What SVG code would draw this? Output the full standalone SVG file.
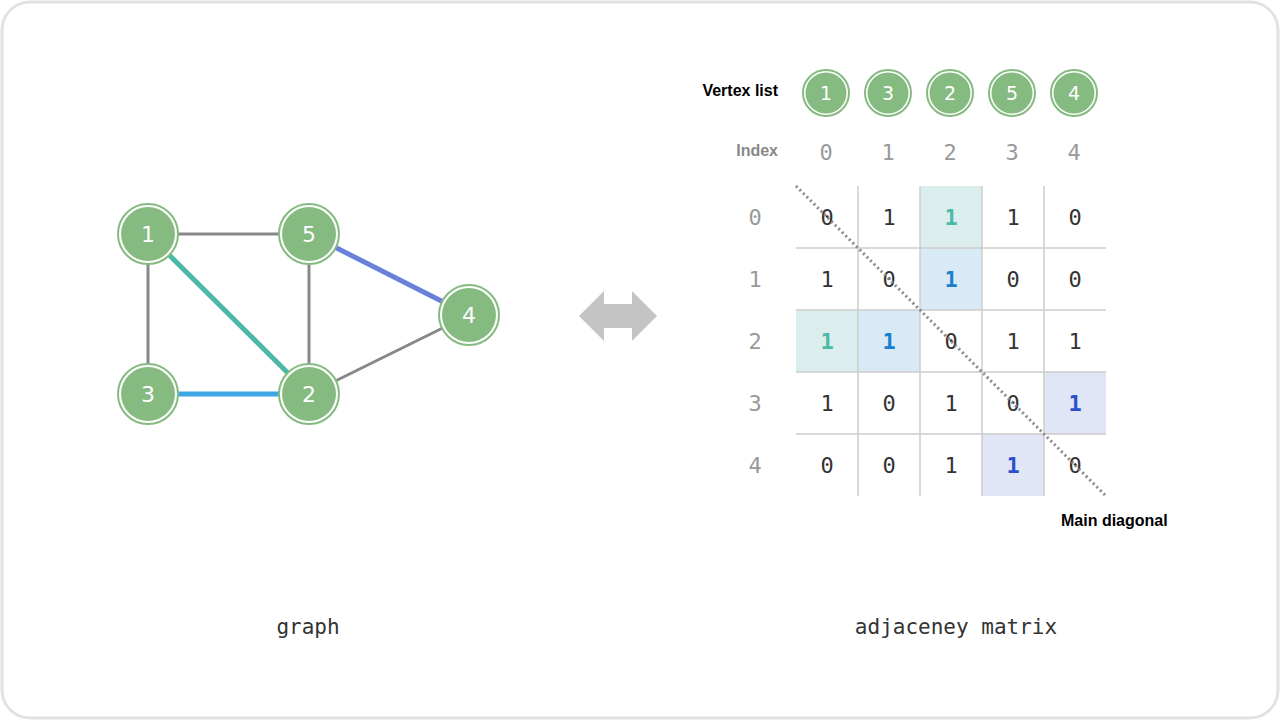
<svg xmlns="http://www.w3.org/2000/svg" width="1280" height="720" viewBox="0 0 1280 720">
<defs>
<style>
.node-o{fill:#ffffff;stroke:#85ba80;stroke-width:2}
.node-i{fill:#85ba80}
.ntxt{font-family:"DejaVu Sans","Noto Sans",sans-serif;fill:#ffffff;text-anchor:middle;dominant-baseline:central}
.m{font-family:"DejaVu Sans Mono","Liberation Mono",monospace;font-size:22px;fill:#333;text-anchor:middle;dominant-baseline:central}
.idx{font-family:"DejaVu Sans Mono","Liberation Mono",monospace;font-size:22px;fill:#999;text-anchor:middle;dominant-baseline:central}
.b{font-family:"DejaVu Sans Mono","Liberation Mono",monospace;font-size:22px;font-weight:bold;text-anchor:middle;dominant-baseline:central}
.lbl{font-family:"Liberation Sans",Arial,sans-serif;font-weight:bold;font-size:16px}
.cap{font-family:"DejaVu Sans Mono","Liberation Mono",monospace;font-size:21px;fill:#333;text-anchor:middle}
.grid{stroke:#cccccc;stroke-width:1.5}
</style>
</defs>
<rect x="2" y="2" width="1276" height="716" rx="28" fill="#ffffff" stroke="#e2e2e2" stroke-width="3"/>

<g id="connectors">
<line x1="148" y1="234" x2="309" y2="234" stroke="#888" stroke-width="3"/>
<line x1="148" y1="234" x2="148" y2="394" stroke="#888" stroke-width="3"/>
<line x1="309" y1="234" x2="309" y2="394" stroke="#888" stroke-width="3"/>
<line x1="309" y1="394" x2="469" y2="315" stroke="#888" stroke-width="3"/>
<line x1="148" y1="234" x2="309" y2="394" stroke="#4cb8a8" stroke-width="5"/>
<line x1="148" y1="394" x2="309" y2="394" stroke="#3fa6e6" stroke-width="5"/>
<line x1="309" y1="234" x2="469" y2="315" stroke="#6b80dd" stroke-width="5"/>
</g>

<g id="node-1"><circle class="node-o" cx="148" cy="234" r="30"/><circle class="node-i" cx="148" cy="234" r="27"/><text class="ntxt" x="148" y="234" font-size="22">1</text></g>
<g id="node-5"><circle class="node-o" cx="309" cy="234" r="30"/><circle class="node-i" cx="309" cy="234" r="27"/><text class="ntxt" x="309" y="234" font-size="22">5</text></g>
<g id="node-4"><circle class="node-o" cx="469" cy="315" r="30"/><circle class="node-i" cx="469" cy="315" r="27"/><text class="ntxt" x="469" y="315" font-size="22">4</text></g>
<g id="node-3"><circle class="node-o" cx="148" cy="394" r="30"/><circle class="node-i" cx="148" cy="394" r="27"/><text class="ntxt" x="148" y="394" font-size="22">3</text></g>
<g id="node-2"><circle class="node-o" cx="309" cy="394" r="30"/><circle class="node-i" cx="309" cy="394" r="27"/><text class="ntxt" x="309" y="394" font-size="22">2</text></g>

<g id="arrow">
<polygon points="579,316 604,291 604,304 632,304 632,291 657,316 632,341 632,328 604,328 604,341" fill="#c4c4c4"/>
</g>

<g id="vertex-list">
<text class="lbl" x="778" y="96" text-anchor="end" fill="#000">Vertex list</text>
<circle class="node-o" cx="826" cy="93" r="23"/><circle class="node-i" cx="826" cy="93" r="20.5"/><text class="ntxt" x="826" y="93" font-size="19">1</text>
<circle class="node-o" cx="888" cy="93" r="23"/><circle class="node-i" cx="888" cy="93" r="20.5"/><text class="ntxt" x="888" y="93" font-size="19">3</text>
<circle class="node-o" cx="950" cy="93" r="23"/><circle class="node-i" cx="950" cy="93" r="20.5"/><text class="ntxt" x="950" y="93" font-size="19">2</text>
<circle class="node-o" cx="1012" cy="93" r="23"/><circle class="node-i" cx="1012" cy="93" r="20.5"/><text class="ntxt" x="1012" y="93" font-size="19">5</text>
<circle class="node-o" cx="1074" cy="93" r="23"/><circle class="node-i" cx="1074" cy="93" r="20.5"/><text class="ntxt" x="1074" y="93" font-size="19">4</text>
</g>

<g id="index-row">
<text class="lbl" x="778" y="156" text-anchor="end" fill="#888">Index</text>
<text class="idx" x="826" y="152">0</text>
<text class="idx" x="888" y="152">1</text>
<text class="idx" x="950" y="152">2</text>
<text class="idx" x="1012" y="152">3</text>
<text class="idx" x="1074" y="152">4</text>
<text class="idx" x="755" y="217">0</text>
<text class="idx" x="755" y="279">1</text>
<text class="idx" x="755" y="341">2</text>
<text class="idx" x="755" y="403">3</text>
<text class="idx" x="755" y="465">4</text>
</g>

<g id="matrix">
<rect x="920" y="186" width="62" height="62" fill="#dbeeed"/>
<rect x="920" y="248" width="62" height="62" fill="#d9eaf7"/>
<rect x="796" y="310" width="62" height="62" fill="#dbeeed"/>
<rect x="858" y="310" width="62" height="62" fill="#d9eaf7"/>
<rect x="1044" y="372" width="62" height="62" fill="#e1e6f7"/>
<rect x="982" y="434" width="62" height="62" fill="#e1e6f7"/>
<line class="grid" x1="858" y1="186" x2="858" y2="496"/>
<line class="grid" x1="920" y1="186" x2="920" y2="496"/>
<line class="grid" x1="982" y1="186" x2="982" y2="496"/>
<line class="grid" x1="1044" y1="186" x2="1044" y2="496"/>
<line class="grid" x1="796" y1="248" x2="1106" y2="248"/>
<line class="grid" x1="796" y1="310" x2="1106" y2="310"/>
<line class="grid" x1="796" y1="372" x2="1106" y2="372"/>
<line class="grid" x1="796" y1="434" x2="1106" y2="434"/>

<text class="m" x="827" y="217">0</text><text class="m" x="889" y="217">1</text><text class="b" x="951" y="217" fill="#4cb8a8">1</text><text class="m" x="1013" y="217">1</text><text class="m" x="1075" y="217">0</text>
<text class="m" x="827" y="279">1</text><text class="m" x="889" y="279">0</text><text class="b" x="951" y="279" fill="#1a7fcc">1</text><text class="m" x="1013" y="279">0</text><text class="m" x="1075" y="279">0</text>
<text class="b" x="827" y="341" fill="#4cb8a8">1</text><text class="b" x="889" y="341" fill="#1a7fcc">1</text><text class="m" x="951" y="341">0</text><text class="m" x="1013" y="341">1</text><text class="m" x="1075" y="341">1</text>
<text class="m" x="827" y="403">1</text><text class="m" x="889" y="403">0</text><text class="m" x="951" y="403">1</text><text class="m" x="1013" y="403">0</text><text class="b" x="1075" y="403" fill="#2a4fcc">1</text>
<text class="m" x="827" y="465">0</text><text class="m" x="889" y="465">0</text><text class="m" x="951" y="465">1</text><text class="b" x="1013" y="465" fill="#2a4fcc">1</text><text class="m" x="1075" y="465">0</text>

<line x1="796" y1="186" x2="1106" y2="496" stroke="#888" stroke-width="3" stroke-dasharray="2 3"/>
<text class="lbl" x="1061" y="526" fill="#000">Main diagonal</text>
</g>

<g id="captions">
<text class="cap" x="308" y="634">graph</text>
<text class="cap" x="956" y="634">adjaceney matrix</text>
</g>
</svg>
